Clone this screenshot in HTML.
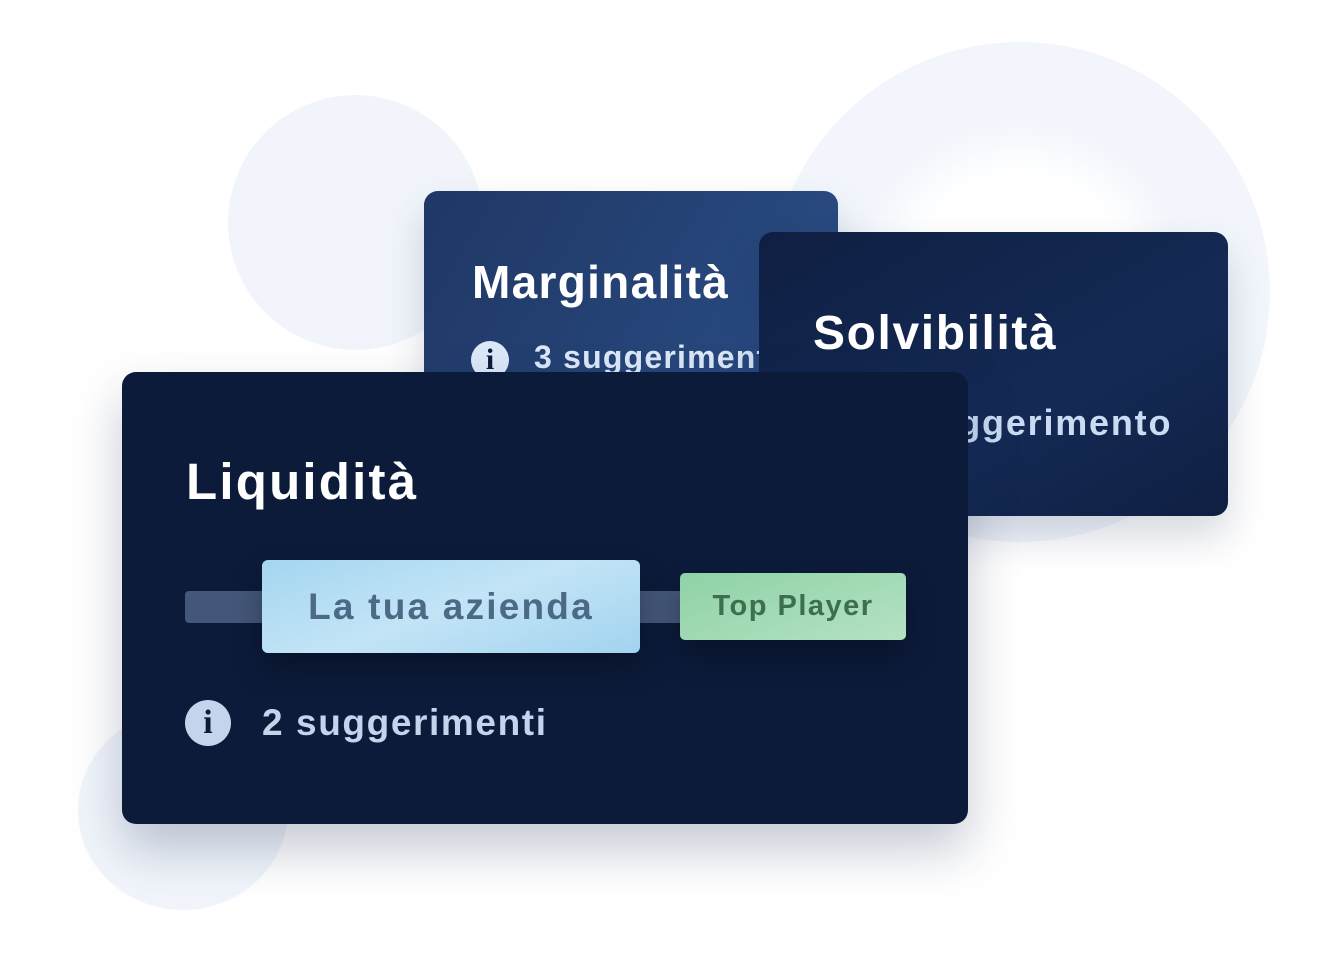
<!DOCTYPE html>
<html><head><meta charset="utf-8"><style>
*{margin:0;padding:0;box-sizing:border-box}
body{width:1332px;height:965px;background:#fff;position:relative;overflow:hidden;font-family:"Liberation Sans",sans-serif;font-weight:bold}
.abs{position:absolute}
.card{position:absolute;border-radius:14px;overflow:hidden;box-shadow:0 20px 40px rgba(20,40,80,.18)}
.t{position:absolute;white-space:nowrap;color:#fff}
.ic{position:absolute;border-radius:50%;color:#0c1b3a;text-align:center;font-family:"Liberation Serif",serif;font-weight:bold}
</style></head><body>
<div class="abs" style="left:228px;top:95px;width:255px;height:255px;border-radius:50%;background:#f1f5fb"></div>
<div class="abs" style="left:770px;top:42px;width:500px;height:500px;border-radius:50%;background:#f2f6fc"></div>
<div class="abs" style="left:880px;top:148px;width:280px;height:280px;border-radius:50%;background:#fff;filter:blur(20px)"></div>
<div class="abs" style="left:78px;top:710px;width:210px;height:200px;border-radius:50%;background:#f1f5fb"></div>

<div class="card" style="left:424px;top:191px;width:414px;height:260px;background:linear-gradient(120deg,#1f3764,#2b4f88)">
  <div class="t" style="left:48px;top:64px;font-size:46px;letter-spacing:1.3px">Marginalità</div>
  <div class="ic" style="left:47px;top:150px;width:38px;height:38px;background:#dbe8f8;font-size:30px;line-height:38px">i</div>
  <div class="t" style="left:110px;top:148px;font-size:32px;color:#dbe8f8;letter-spacing:1.2px">3 suggerimenti</div>
</div>

<div class="card" style="left:759px;top:232px;width:469px;height:284px;background:linear-gradient(150deg,#0f1f42,#142a55 60%,#0f1f42)">
  <div class="t" style="left:54px;top:74px;font-size:48px;letter-spacing:1.6px">Solvibilità</div>
  <div class="t" style="left:120px;top:170px;font-size:36px;color:#c9dcf3;letter-spacing:1.8px">1 suggerimento</div>
</div>

<div class="card" style="left:122px;top:372px;width:846px;height:452px;background:#0c1b3a;box-shadow:0 25px 50px rgba(20,40,80,.25)">
  <div class="t" style="left:64px;top:80px;font-size:51px;letter-spacing:2.2px">Liquidità</div>
  <div class="abs" style="left:63px;top:219px;width:500px;height:32px;border-radius:4px;background:#44577a"></div>
  <div class="abs" style="left:140px;top:188px;width:378px;height:93px;border-radius:6px;background:linear-gradient(160deg,#a4d6f0,#c3e4f6 50%,#a2d3ef);box-shadow:0 15px 30px rgba(0,0,0,.3);color:#4c6a86;font-size:37px;letter-spacing:2.2px;text-align:center;line-height:93px">La tua azienda</div>
  <div class="abs" style="left:558px;top:201px;width:226px;height:67px;border-radius:5px;background:linear-gradient(160deg,#8fd2a6,#b4e2c4);box-shadow:0 15px 30px rgba(0,0,0,.3);color:#3c6e4f;font-size:29px;letter-spacing:1.5px;text-align:center;line-height:67px">Top Player</div>
  <div class="ic" style="left:63px;top:328px;width:46px;height:46px;background:#c5d3ec;font-size:34px;line-height:46px">i</div>
  <div class="t" style="left:140px;top:330px;font-size:37px;color:#c5d3ec;letter-spacing:1.6px">2 suggerimenti</div>
</div>
</body></html>
